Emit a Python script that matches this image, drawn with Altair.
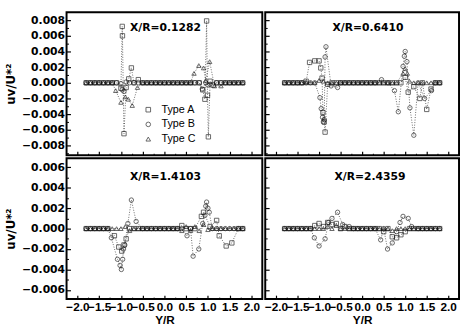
import altair as alt
import pandas as pd

# ---------------- data ----------------
TYPES = ["Type A", "Type B", "Type C"]
SHAPES = ["square", "circle", "triangle-up"]
PANEL_TITLES = ["X/R=0.1282", "X/R=0.6410", "X/R=1.4103", "X/R=2.4359"]

# measurement stations along Y/R (baseline, where uv/U*^2 ~ 0)
BASE_YR = [-1.8, -1.7, -1.6, -1.5, -1.4, -1.3, -1.2, -1.1, -1.0, -0.9, -0.8,
           -0.7, -0.6, -0.5, -0.4, -0.3, -0.2, -0.1, 0.0, 0.1, 0.2, 0.3, 0.4,
           0.5, 0.6, 0.7, 0.8, 0.9, 1.0, 1.1, 1.2, 1.3, 1.4, 1.5, 1.6, 1.7, 1.8]

# shear-layer points (Y/R, uv/U*^2)
P1_A_YR = [-1.1, -1.0, -0.97, -0.965, -0.93, -0.88, -0.82, -0.76, -0.6,
           0.88, 0.93, 0.97, 0.99, 1.01, 1.05, 1.12]
P1_A_UV = [0.0, -0.0007, 0.0072, 0.0060, -0.0065, -0.0006, 0.0005, 0.0019, 0.0004,
           -0.0009, -0.0021, 0.0079, -0.0016, -0.0069, 0.0002, -0.0003]
P1_B_YR = [-1.0, -0.97, -0.93, -0.88, 0.87, 0.95, 1.0, 1.05]
P1_B_UV = [-0.0001, -0.0009, -0.0011, 0.0001, -0.0008, 0.0, -0.0003, -0.0002]
P1_C_YR = [-1.12, -1.0, -0.9, -0.83, -0.74, -0.62, 0.68, 0.79, 0.9, 0.95, 1.04, 1.15, 1.3]
P1_C_UV = [-0.0010, -0.0025, -0.0018, -0.0021, -0.0029, -0.0006,
           0.0012, 0.0022, 0.0019, 0.0003, 0.0027, -0.0004, -0.0004]

P2_A_YR = [-1.3, -1.22, -1.1, -1.0, -0.96, -0.93, -0.91, -0.88, -0.86, -0.8,
           1.0, 1.07, 1.2, 1.34, 1.5, 1.6]
P2_A_UV = [0.0002, 0.0026, 0.0028, 0.0028, 0.0019, 0.0006, -0.0038, -0.0050, -0.0063, -0.0002,
           0.0007, -0.0012, -0.0005, -0.0020, -0.0034, -0.0008]
P2_B_YR = [-0.98, -0.95, -0.92, -0.9, -0.88, -0.86, -0.84, -0.72, -0.57,
           0.45, 0.75, 0.84, 0.95, 0.98, 1.0, 1.04, 1.11, 1.2, 1.45, 1.61]
P2_B_UV = [-0.0019, -0.0033, -0.0044, -0.0050, -0.0047, 0.0033, 0.0046, -0.0004, -0.0006,
           0.0004, -0.0010, -0.0037, 0.0021, 0.0034, 0.0040, 0.0027, -0.0032, -0.0067, -0.0020, -0.0010]
P2_C_YR = [-1.0, -0.9, 0.95, 1.0, 1.05, 1.1]
P2_C_UV = [0.0003, 0.0002, 0.0012, 0.0018, 0.0012, 0.0002]

P3_A_YR = [-1.15, -1.05, -0.98, -0.93, -0.88, 0.4, 0.85, 0.9, 1.05, 1.2, 1.26, 1.42, 1.55]
P3_A_UV = [-0.0007, -0.0018, -0.0022, -0.0016, -0.0010, 0.0003, 0.0012, 0.0016, 0.0002,
           0.0008, -0.0007, -0.0017, -0.0014]
P3_B_YR = [-1.22, -1.08, -1.02, -0.99, -0.96, -0.94, -0.91, -0.84, -0.76, -0.65,
           0.52, 0.66, 0.79, 0.88, 0.93, 0.95, 0.97, 1.0, 1.03]
P3_B_UV = [-0.0009, -0.0030, -0.0036, -0.0040, -0.0030, -0.0020, -0.0016, 0.0005, 0.0028, 0.0007,
           -0.0007, -0.0027, -0.0020, 0.0005, 0.0013, 0.0022, 0.0026, 0.0020, 0.0016]
P3_C_YR = [-0.9, -0.8, 0.4, 0.5, 0.6, 0.7, 0.8, 0.9, 1.0]
P3_C_UV = [0.0002, -0.0002, -0.0002, 0.0002, -0.0002, 0.0002, -0.0002, 0.0004, -0.0001]

P4_A_YR = [-1.1, -1.0, -0.9, -0.8, -0.7, -0.6, -0.4, 0.5, 0.7, 0.8, 0.9, 1.0]
P4_A_UV = [0.0003, 0.0005, 0.0002, 0.0006, 0.0004, 0.0005, 0.0002,
           -0.0003, -0.0008, -0.0009, -0.0006, -0.0003]
P4_B_YR = [-1.11, -1.0, -0.86, -0.78, -0.7, -0.57, -0.45, -0.3,
           0.43, 0.59, 0.7, 0.8, 0.88, 0.95, 1.07, 1.15]
P4_B_UV = [-0.0009, -0.0017, -0.0010, 0.0006, 0.0010, 0.0016, 0.0004, 0.0002,
           -0.0011, -0.0020, -0.0014, -0.0003, 0.0006, 0.0012, 0.0010, 0.0002]
P4_C_YR = [-0.8, -0.6, 0.7]
P4_C_UV = [0.0002, 0.0003, -0.0002]

PANEL_DATA = [
    [(P1_A_YR, P1_A_UV), (P1_B_YR, P1_B_UV), (P1_C_YR, P1_C_UV)],
    [(P2_A_YR, P2_A_UV), (P2_B_YR, P2_B_UV), (P2_C_YR, P2_C_UV)],
    [(P3_A_YR, P3_A_UV), (P3_B_YR, P3_B_UV), (P3_C_YR, P3_C_UV)],
    [(P4_A_YR, P4_A_UV), (P4_B_YR, P4_B_UV), (P4_C_YR, P4_C_UV)],
]

X_MAJOR = [-2.0, -1.5, -1.0, -0.5, 0.0, 0.5, 1.0, 1.5, 2.0]
X_MINOR = [-1.75, -1.25, -0.75, -0.25, 0.25, 0.75, 1.25, 1.75]
Y_TOP_MAJOR = [-0.008, -0.006, -0.004, -0.002, 0.0, 0.002, 0.004, 0.006, 0.008]
Y_TOP_MINOR = [-0.009, -0.007, -0.005, -0.003, -0.001, 0.001, 0.003, 0.005, 0.007]
Y_BOT_MAJOR = [-0.006, -0.004, -0.002, 0.0, 0.002, 0.004, 0.006]
Y_BOT_MINOR = [-0.005, -0.003, -0.001, 0.001, 0.003, 0.005]


def build_df(series):
    rows = []
    for t, (yr, uv) in zip(TYPES, series):
        pts = [(b, 0.0) for b in BASE_YR if all(abs(b - f) > 0.055 for f in yr)]
        pts += list(zip(yr, uv))
        pts.sort(key=lambda p: p[0])
        for i, (a, v) in enumerate(pts):
            rows.append({"yr": a, "uv": v, "type": t, "idx": i})
    return pd.DataFrame(rows)


LBL_Y = dict(labelFont="DejaVu Sans", labelFontWeight="bold", labelFontSize=11)
LBL_X = dict(labelFont="Liberation Sans", labelFontWeight="bold", labelFontSize=12)


def panel(k, ydom, ymaj, ymin, show_ylab, show_xlab, show_legend, w, h, tx, ty):
    df = build_df(PANEL_DATA[k])
    xs = alt.Scale(domain=[-2.25, 2.25], nice=False, zero=False)
    ys = alt.Scale(domain=ydom, nice=False, zero=False)

    x_axis = alt.Axis(values=X_MAJOR, format=".1f", labels=show_xlab, orient="bottom",
                      title="Y/R" if show_xlab else None, tickSize=4, offset=-4,
                      domain=False, grid=False, labelOverlap=False, labelPadding=3,
                      tickColor="black", tickWidth=1.2, labelColor="black",
                      titleFont="Liberation Sans", titleFontWeight="bold", titleFontSize=12,
                      titlePadding=2, titleColor="black", **LBL_X)
    y_axis = alt.Axis(values=ymaj, format=".3f", labels=show_ylab, orient="left",
                      title="uv/U*²" if show_ylab else None, tickSize=4, offset=-4,
                      domain=False, grid=False, labelOverlap=False, labelPadding=2,
                      tickColor="black", tickWidth=1.2, labelColor="black",
                      titleFont="DejaVu Sans", titleFontWeight="bold", titleFontSize=12,
                      titlePadding=4, titleColor="black", **LBL_Y)

    lines = alt.Chart(df).mark_line(strokeDash=[1, 1.6], strokeWidth=0.8, color="#444").encode(
        x=alt.X("yr:Q", scale=xs, axis=x_axis),
        y=alt.Y("uv:Q", scale=ys, axis=y_axis),
        detail="type:N",
        order="idx:Q",
    )

    legend = alt.Legend(title=None, orient="none", legendX=78, legendY=94,
                        labelFont="Liberation Sans", labelFontSize=11, symbolSize=22,
                        symbolStrokeWidth=0.9, symbolStrokeColor="#111", rowPadding=3,
                        labelOffset=8, labelColor="black") if show_legend else None
    points = alt.Chart(df).mark_point(filled=False, size=20, strokeWidth=0.9, color="#111").encode(
        x=alt.X("yr:Q", scale=xs, axis=None),
        y=alt.Y("uv:Q", scale=ys, axis=None),
        shape=alt.Shape("type:N", scale=alt.Scale(domain=TYPES, range=SHAPES), legend=legend),
    )

    minor = alt.Chart(df).mark_point(opacity=0).encode(
        x=alt.X("yr:Q", scale=xs, axis=alt.Axis(values=X_MINOR, labels=False, title=None,
                                                 tickSize=2, offset=-2, domain=False, grid=False,
                                                 orient="bottom", tickColor="black")),
        y=alt.Y("uv:Q", scale=ys, axis=alt.Axis(values=ymin, labels=False, title=None,
                                                 tickSize=2, offset=-2, domain=False, grid=False,
                                                 orient="left", tickColor="black")),
    )

    title = alt.Chart(pd.DataFrame({"t": [PANEL_TITLES[k]]})).mark_text(
        font="DejaVu Sans", fontWeight="bold", fontSize=11, color="black"
    ).encode(text="t:N", x=alt.value(tx), y=alt.value(ty))

    return alt.layer(lines, points, minor, title).resolve_axis(
        x="independent", y="independent"
    ).properties(width=w, height=h)


TOP = [-0.00925, 0.0090]
BOT = [-0.0069, 0.0069]

tl = panel(0, TOP, Y_TOP_MAJOR, Y_TOP_MINOR, True, False, True, 200, 146, 101, 16)
tr = panel(1, TOP, Y_TOP_MAJOR, Y_TOP_MINOR, False, False, False, 198, 146, 105, 16)
bl = panel(2, BOT, Y_BOT_MAJOR, Y_BOT_MINOR, True, True, False, 200, 144, 101, 19)
br = panel(3, BOT, Y_BOT_MAJOR, Y_BOT_MINOR, False, True, False, 198, 144, 107, 19)

chart = alt.concat(tl, tr, bl, br, columns=2, spacing=0).resolve_legend(
    shape="independent"
).properties(
    padding={"left": 3, "top": 8, "right": 0, "bottom": 0},
    background="white",
).configure_view(stroke="black", strokeWidth=2)

chart.save("out.html", embed_options={"renderer": "svg", "actions": False})
